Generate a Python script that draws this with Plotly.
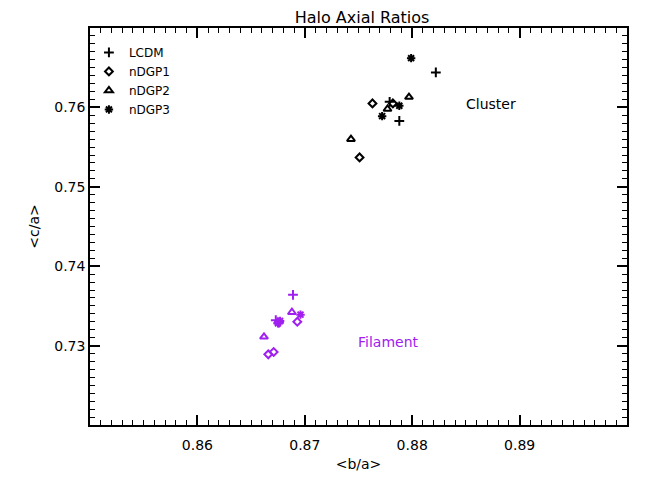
"""Halo axial ratios: <c/a> vs <b/a> for cluster and filament haloes."""

import plotly.graph_objects as go

PURPLE = "#A020F0"
FONT = "DejaVu Sans"

MODELS = ["LCDM", "nDGP1", "nDGP2", "nDGP3"]
SYMBOLS = ["cross-thin-open", "diamond-open", "triangle-up-open", "asterisk-open"]
SIZES = [7, 6, 7, 7]

# cluster haloes (black)
cluster_ba_lcdm = [0.8822, 0.8779, 0.8788]
cluster_ca_lcdm = [0.7644, 0.7607, 0.7583]
cluster_ba_ndgp1 = [0.8763, 0.8782, 0.8751]
cluster_ca_ndgp1 = [0.7605, 0.7605, 0.7537]
cluster_ba_ndgp2 = [0.8797, 0.8777, 0.8743]
cluster_ca_ndgp2 = [0.7613, 0.7598, 0.7560]
cluster_ba_ndgp3 = [0.8799, 0.8788, 0.8772]
cluster_ca_ndgp3 = [0.7662, 0.7602, 0.7589]

# filament haloes (purple)
filament_ba_lcdm = [0.8689, 0.8673, 0.8676]
filament_ca_lcdm = [0.7364, 0.7332, 0.7329]
filament_ba_ndgp1 = [0.8693, 0.8666, 0.8671]
filament_ca_ndgp1 = [0.7330, 0.7289, 0.7292]
filament_ba_ndgp2 = [0.8688, 0.8662, 0.8675]
filament_ca_ndgp2 = [0.7342, 0.7311, 0.7330]
filament_ba_ndgp3 = [0.8696, 0.8675, 0.8677]
filament_ca_ndgp3 = [0.7339, 0.7328, 0.7331]

x_ticks = [0.86, 0.87, 0.88, 0.89]
y_ticks = [0.73, 0.74, 0.75, 0.76]

cluster = [
    (cluster_ba_lcdm, cluster_ca_lcdm),
    (cluster_ba_ndgp1, cluster_ca_ndgp1),
    (cluster_ba_ndgp2, cluster_ca_ndgp2),
    (cluster_ba_ndgp3, cluster_ca_ndgp3),
]
filament = [
    (filament_ba_lcdm, filament_ca_lcdm),
    (filament_ba_ndgp1, filament_ca_ndgp1),
    (filament_ba_ndgp2, filament_ca_ndgp2),
    (filament_ba_ndgp3, filament_ca_ndgp3),
]

fig = go.Figure()

for name, sym, size, (cx, cy), (fx, fy) in zip(MODELS, SYMBOLS, SIZES, cluster, filament):
    fig.add_trace(go.Scatter(
        x=cx, y=cy, mode="markers", name=name, legendgroup=name,
        marker={"symbol": sym, "size": size, "color": "black",
                "line": {"color": "black", "width": 2}},
    ))
    fig.add_trace(go.Scatter(
        x=fx, y=fy, mode="markers", name=name, legendgroup=name, showlegend=False,
        marker={"symbol": sym, "size": size, "color": PURPLE,
                "line": {"color": PURPLE, "width": 2}},
    ))

fig.add_annotation(x=0.8873, y=0.7604, text="Cluster", showarrow=False,
                   xanchor="center", font={"size": 14, "color": "black"})
fig.add_annotation(x=0.8778, y=0.7304, text="Filament", showarrow=False,
                   xanchor="center", font={"size": 14, "color": PURPLE})

axis_common = dict(
    showgrid=False, zeroline=False, showline=True, linecolor="black", linewidth=1.5,
    mirror="ticks", ticks="inside", ticklen=10, tickwidth=1.5, tickcolor="black",
    tickfont={"size": 14, "color": "black"},
    minor={"ticks": "inside", "ticklen": 5, "tickwidth": 1, "tickcolor": "black"},
)

fig.update_xaxes(range=[0.85, 0.90], tickvals=x_ticks, ticktext=[f"{v:.2f}" for v in x_ticks],
                 minor_dtick=0.001, minor_tick0=0.85, ticklabelstandoff=6,
                 title={"text": "&lt;b/a&gt;", "font": {"size": 14}, "standoff": 8},
                 **axis_common)
fig.update_yaxes(range=[0.72, 0.77], tickvals=y_ticks, ticktext=[f"{v:.2f}" for v in y_ticks],
                 minor_dtick=0.001, minor_tick0=0.72,
                 title={"text": "&lt;c/a&gt;", "font": {"size": 14}, "standoff": 11},
                 **axis_common)

# page body has an 8px margin, so the figure is shrunk by that much
fig.update_layout(
    width=646, height=474,
    margin={"l": 82, "r": 27, "t": 20, "b": 51},
    paper_bgcolor="white", plot_bgcolor="white",
    font={"family": FONT, "color": "black"},
    title={"text": "Halo Axial Ratios", "x": 0.548, "xanchor": "center",
           "y": 0.991, "yanchor": "top", "pad": {"t": 0, "b": 0},
           "font": {"size": 16}},
    legend={"x": -0.002, "y": 0.975, "xanchor": "left", "yanchor": "top",
            "bgcolor": "rgba(0,0,0,0)", "font": {"size": 12},
            "tracegroupgap": 0, "itemwidth": 30},
    showlegend=True,
)

fig.write_html("out.html")
